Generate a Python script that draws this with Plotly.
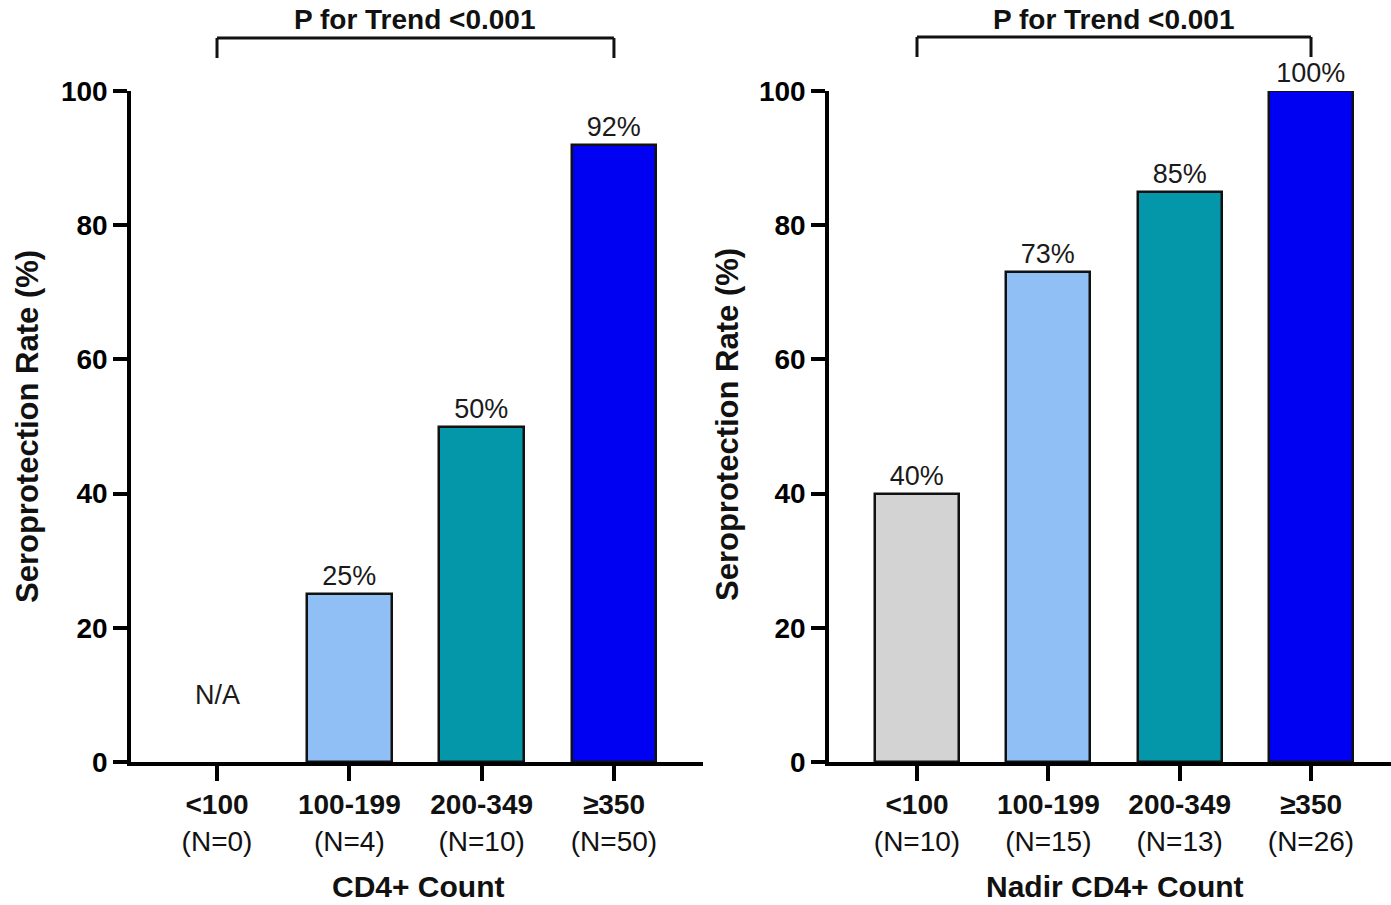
import plotly.graph_objects as go

categories = ["&lt;100", "100-199", "200-349", "≥350"]
left_n = [0, 4, 10, 50]
left_rate = [None, 25, 50, 92]
left_labels = ["", "25%", "50%", "92%"]
right_n = [10, 15, 13, 26]
right_rate = [40, 73, 85, 100]
right_labels = ["40%", "73%", "85%", "100%"]
bar_colors = ["#D3D3D3", "#8FBFF5", "#0497AA", "#0000F2"]
y_ticks = [0, 20, 40, 60, 80, 100]
p_text = "P for Trend &lt;0.001"
y_title = "Seroprotection Rate (%)"
left_xtitle = "CD4+ Count"
right_xtitle = "Nadir CD4+ Count"

FONT = "Liberation Sans, Arial, sans-serif"
pos = list(range(len(categories)))

fig = go.Figure()
fig.add_trace(go.Bar(x=pos, y=left_rate, xaxis="x", yaxis="y", width=0.64,
                     marker=dict(color=bar_colors, line=dict(color="#111", width=2.5)),
                     text=left_labels, textposition="outside", cliponaxis=False,
                     textfont=dict(size=27, color="#1a1a1a", family=FONT)))
fig.add_trace(go.Bar(x=pos, y=right_rate, xaxis="x2", yaxis="y2", width=0.64,
                     marker=dict(color=bar_colors, line=dict(color="#111", width=2.5)),
                     text=right_labels, textposition="outside", cliponaxis=False,
                     textfont=dict(size=27, color="#1a1a1a", family=FONT)))

def xaxis(domain, rng, ns, anchor):
    return dict(domain=domain, range=rng, anchor=anchor, tickmode="array", tickvals=pos,
                ticktext=[f"<b>{c}</b><br>(N={n})" for c, n in zip(categories, ns)],
                showline=True, linewidth=3.5, linecolor="#000", ticks="outside",
                ticklen=15, tickwidth=3.5, tickcolor="#000", showgrid=False, zeroline=False,
                automargin=False,
                tickfont=dict(size=28, color="#111", family=FONT), fixedrange=True)

def yaxis(domain, anchor):
    return dict(domain=domain, range=[0, 100], anchor=anchor, tickmode="array", tickvals=y_ticks,
                showline=True, linewidth=3.5, linecolor="#000", ticks="outside",
                ticklen=14, tickwidth=3.5, tickcolor="#000", showgrid=False, zeroline=False,
                automargin=False,
                tickfont=dict(size=28, color="#000", family=FONT, weight="bold"))

ydom = [1 - 762 / 905, 1 - 91 / 905]
fig.update_layout(
    width=1391, height=905, margin=dict(l=0, r=0, t=0, b=0, autoexpand=False),
    paper_bgcolor="white", plot_bgcolor="white", showlegend=False, bargap=0,
    font=dict(family=FONT, color="#000"),
    xaxis=xaxis([131 / 1391, 703 / 1391], [-0.65, 3.673], left_n, "y"),
    yaxis=yaxis(ydom, "x"),
    xaxis2=xaxis([829 / 1391, 1.0], [-0.67, 3.609], right_n, "y2"),
    yaxis2=yaxis(ydom, "x2"),
)

shapes = []
anns = []
for xr, ytop, ybot in [("x", 38, 58), ("x2", 37, 57)]:
    yt = 1 - ytop / 905
    yb = 1 - ybot / 905
    lw = dict(color="#111", width=3)
    shapes.append(dict(type="line", xref=xr, yref="paper", x0=0, x1=3, y0=yt, y1=yt, line=lw))
    shapes.append(dict(type="line", xref=xr, yref="paper", x0=0, x1=0, y0=yt, y1=yb, line=lw))
    shapes.append(dict(type="line", xref=xr, yref="paper", x0=3, x1=3, y0=yt, y1=yb, line=lw))
    anns.append(dict(xref=xr, yref="paper", x=1.5, y=1 - 20 / 905, text=f"<b>{p_text}</b>",
                     showarrow=False, font=dict(size=28, color="#111", family=FONT),
                     xanchor="center", yanchor="middle"))

for px, py in [(27, 427), (727, 425)]:
    anns.append(dict(xref="paper", yref="paper", x=px / 1391, y=1 - py / 905, text=f"<b>{y_title}</b>",
                     textangle=-90, showarrow=False, font=dict(size=31, color="#111", family=FONT),
                     xanchor="center", yanchor="middle"))

for px, t in [(419, left_xtitle), (1115, right_xtitle)]:
    anns.append(dict(xref="paper", yref="paper", x=px / 1391, y=1 - 886 / 905, text=f"<b>{t}</b>",
                     showarrow=False, font=dict(size=30, color="#111", family=FONT),
                     xanchor="center", yanchor="middle"))

anns.append(dict(xref="x", yref="y", x=0, y=10, text="N/A", showarrow=False,
                 font=dict(size=27, color="#1a1a1a", family=FONT), xanchor="center", yanchor="middle"))

fig.update_layout(shapes=shapes, annotations=anns)

post = ("document.documentElement.style.margin='0';document.body.style.margin='0';"
        "document.documentElement.style.overflow='hidden';document.body.style.overflow='hidden';"
        "var d=document.getElementById('{plot_id}');var p=d.parentElement;"
        "Array.from(p.childNodes).forEach(function(n){if(n.nodeType===3){p.removeChild(n);}});"
        "p.style.fontSize='0';p.style.lineHeight='0';p.style.margin='0';p.style.padding='0';")
fig.write_html("out.html", post_script=post, config={"displayModeBar": False})
